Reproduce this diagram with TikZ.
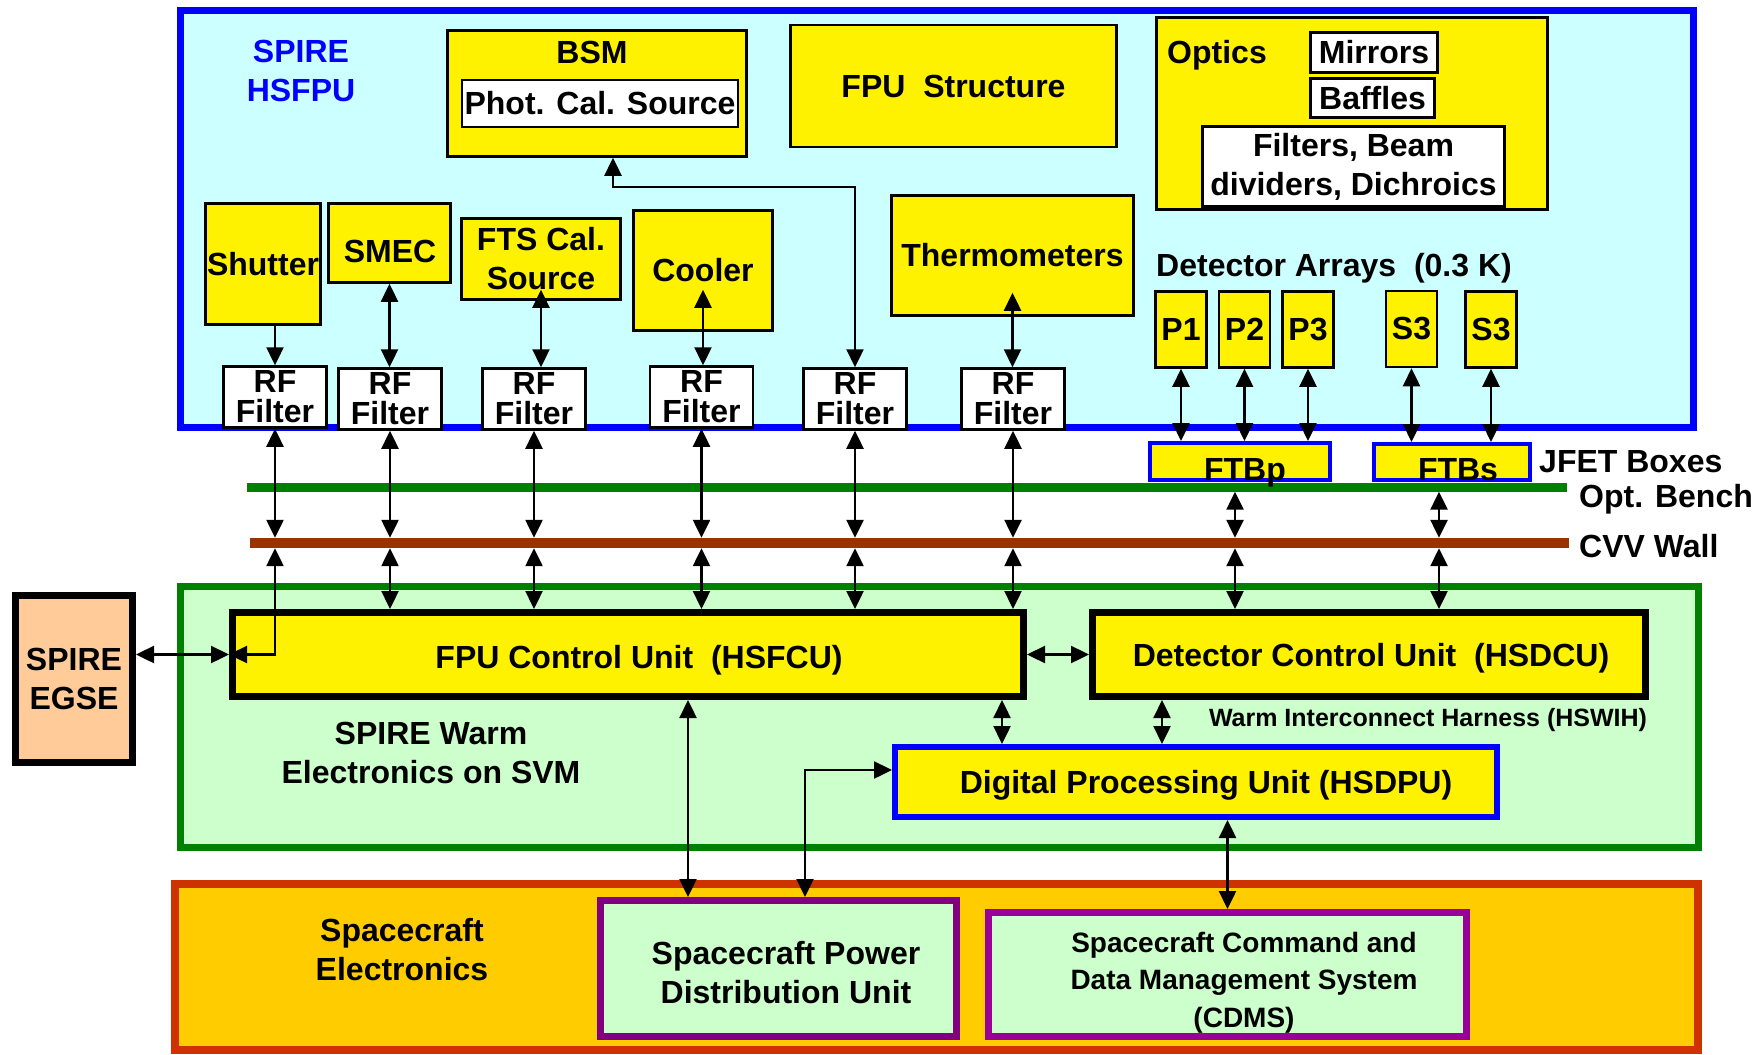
\documentclass[tikz,border=0pt]{standalone}
\usepackage{fontspec}
\setmainfont{Liberation Sans}
\usetikzlibrary{arrows.meta}

\definecolor{fpucyan}{HTML}{CCFFFF}
\definecolor{warmgreen}{HTML}{CCFFCC}
\definecolor{benchgreen}{HTML}{008000}
\definecolor{cvvbrown}{HTML}{993300}
\definecolor{egsepeach}{HTML}{FFCC99}
\definecolor{scorange}{HTML}{FFCC00}
\definecolor{scred}{HTML}{CC3300}
\definecolor{pdupurple}{HTML}{800080}
\definecolor{cdmspurple}{HTML}{990099}

\begin{document}
\begin{tikzpicture}[x=1pt, y=-1pt,
                    every node/.style={font=\bfseries\fontsize{32}{39}\selectfont, align=center, inner sep=0pt},
                    wh/.style 2 args={minimum width=#1pt, minimum height=#2pt},
                    ybox/.style={draw=black, line width=2.5pt, fill=yellow},
                    wbox/.style={draw=black, line width=2.5pt, fill=white},
                    det/.style={ybox, wh={51}{76}},
                    rf/.style={wbox, wh={103}{61}, font=\bfseries\fontsize{32}{30}\selectfont},
                    ftb/.style={draw=blue, line width=4pt, fill=yellow},
                    unit/.style={draw=black, line width=7pt, fill=yellow},
                    link/.style={draw=black, line width=2.4pt},
                    >={Triangle[length=18pt,width=17pt]}]
                    \useasboundingbox (0,0) rectangle (1760,1054);
                    % cold focal plane unit
                    \node[draw=blue, line width=7pt, fill=fpucyan, wh={1513}{417}] (fpu) at (937,219) {};
                    \node[text=blue] (fpulabel) at (301,71) {SPIRE\\HSFPU};
                    \node[ybox, wh={299}{126}] (bsm) at (597,93.5) {};
                    \node (bsmlabel) at (592,52) {BSM};
                    \node[wbox, wh={276}{47}] (pcal) at (600,103.5) {Phot. Cal. Source};
                    \node[ybox, wh={326}{122}] (struct) at (953.5,86) {FPU~~Structure};
                    \node[ybox, wh={391}{192}] (optics) at (1352,113.5) {};
                    \node (opticslabel) at (1217,55) {Optics};
                    \node[wbox, wh={127}{40}] (mirrors) at (1374,52.5) {Mirrors};
                    \node[wbox, wh={124}{39}] (baffles) at (1372.5,98) {Baffles};
                    \node[wbox, wh={302}{80}] (filters) at (1353.5,166.5) {Filters, Beam\\dividers, Dichroics};
                    \node[ybox, wh={115}{121}] (shutter) at (263,264) {Shutter};
                    \node[ybox, wh={122}{79}] (smec) at (389.5,243) {};
                    \node (smeclabel) at (390,251) {SMEC};
                    \node[ybox, wh={159}{81}] (fts) at (541,259) {FTS Cal.\\Source};
                    \node[ybox, wh={139}{120}] (cooler) at (703,270.5) {Cooler};
                    \node[ybox, wh={242}{120}] (thermo) at (1012.5,255.5) {Thermometers};
                    \node[anchor=west] (detlabel) at (1156,268) {Detector Arrays~~(0.3 K)};
                    \node[det] (p1) at (1181,329.5) {P1};
                    \node[det] (p2) at (1244.5,329.5) {P2};
                    \node[det] (p3) at (1308,329.5) {P3};
                    \node[det] (s3a) at (1411.5,329) {S3};
                    \node[det] (s3b) at (1491,329.5) {S3};
                    \node[rf] (rf1) at (275,397) {RF\\Filter};
                    \node[rf] (rf2) at (390,399) {RF\\Filter};
                    \node[rf] (rf3) at (534,399) {RF\\Filter};
                    \node[rf] (rf4) at (701.5,397) {RF\\Filter};
                    \node[rf] (rf5) at (855,399) {RF\\Filter};
                    \node[rf] (rf6) at (1013,399) {RF\\Filter};
                    % bench and wall
                    \node[fill=benchgreen, wh={1320}{9}] (bench) at (907,487) {};
                    \node[fill=cvvbrown, wh={1319}{10}] (cvv) at (909.5,543) {};
                    \node[anchor=west] (benchlabel) at (1579,499) {Opt. Bench};
                    \node[anchor=west] (cvvlabel) at (1579,546) {CVV Wall};
                    \node[ftb, wh={180}{37}] (ftbp) at (1240,461.5) {};
                    \node[ftb, wh={156}{36}] (ftbs) at (1452,462) {};
                    \node (ftbplabel) at (1245,473) {FTBp};
                    \node (ftbslabel) at (1458,469.5) {FTBs};
                    \node[anchor=west] (jfetlabel) at (1539,462) {JFET Boxes};
                    % warm electronics
                    \node[draw=benchgreen, line width=7pt, fill=warmgreen, wh={1518}{261}] (warm) at (939.5,717) {};
                    \node (warmlabel) at (431,753) {SPIRE Warm\\Electronics on SVM};
                    \node[unit, wh={791}{84}] (fcu) at (628,654.5) {};
                    \node (fculabel) at (639,660) {FPU Control Unit~~(HSFCU)};
                    \node[unit, wh={553}{84}] (dcu) at (1369,654.5) {};
                    \node (dculabel) at (1371,658) {Detector Control Unit~~(HSDCU)};
                    \node[font=\bfseries\fontsize{25}{30}\selectfont] (hswih) at (1428,720) {Warm Interconnect Harness (HSWIH)};
                    \node[draw=blue, line width=6pt, fill=yellow, wh={602}{70}] (dpu) at (1196,782) {};
                    \node (dpulabel) at (1206,785) {Digital Processing Unit (HSDPU)};
                    \node[draw=black, line width=7pt, fill=egsepeach, wh={117}{167}] (egse) at (74,679) {SPIRE\\EGSE};
                    % spacecraft
                    \node[draw=scred, line width=8pt, fill=scorange, wh={1523}{166}] (sc) at (936.5,967) {};
                    \node (sclabel) at (402,950) {Spacecraft\\Electronics};
                    \node[draw=pdupurple, line width=7pt, fill=warmgreen, wh={356}{136}] (spdu) at (778.5,968.5) {};
                    \node (spdulabel) at (786,973) {Spacecraft Power\\Distribution Unit};
                    \node[draw=cdmspurple, line width=7pt, fill=warmgreen, wh={478}{124}] (cdms) at (1227.5,974.5) {};
                    \node[font=\bfseries\fontsize{28}{37.5}\selectfont] (cdmslabel) at (1244,982.5) {Spacecraft Command and\\Data Management System\\(CDMS)};
                    % links inside the FPU
                    \draw[link, ->] (shutter.south -| rf1.north) -- (rf1.north);
                    \draw[link, <->] (smec.south) -- (smec.south |- rf2.north);
                    \draw[link, <->] ([yshift=11pt]fts.south) -- (fts.south |- rf3.north);
                    \draw[link, <->] ([yshift=42pt]cooler.south) -- (cooler.south |- rf4.north);
                    \draw[link, <->] ([yshift=24pt]thermo.south) -- (thermo.south |- rf6.north);
                    \draw[link, <->] ([xshift=16pt]bsm.south) -- ++(0,29) -| (rf5.north);
                    \draw[link, <->] (p1.south) -- (p1.south |- ftbp.north);
                    \draw[link, <->] (p2.south) -- (p2.south |- ftbp.north);
                    \draw[link, <->] (p3.south) -- (p3.south |- ftbp.north);
                    \draw[link, <->] (s3a.south) -- (s3a.south |- ftbs.north);
                    \draw[link, <->] (s3b.south) -- (s3b.south |- ftbs.north);
                    % harness through the wall
                    \draw[link, <->] (rf1.south) -- (rf1.south |- cvv.north);
                    \draw[link, <->] (rf1.south |- cvv.south) |- (fcu.west);
                    \draw[link, <->] (rf2.south) -- (rf2.south |- cvv.north);
                    \draw[link, <->] (rf2.south |- cvv.south) -- (rf2.south |- fcu.north);
                    \draw[link, <->] (rf3.south) -- (rf3.south |- cvv.north);
                    \draw[link, <->] (rf3.south |- cvv.south) -- (rf3.south |- fcu.north);
                    \draw[link, <->] (rf4.south) -- (rf4.south |- cvv.north);
                    \draw[link, <->] (rf4.south |- cvv.south) -- (rf4.south |- fcu.north);
                    \draw[link, <->] (rf5.south) -- (rf5.south |- cvv.north);
                    \draw[link, <->] (rf5.south |- cvv.south) -- (rf5.south |- fcu.north);
                    \draw[link, <->] (rf6.south) -- (rf6.south |- cvv.north);
                    \draw[link, <->] (rf6.south |- cvv.south) -- (rf6.south |- fcu.north);
                    \draw[link, <->] ([xshift=-5pt]ftbp.south |- bench.south) -- ([xshift=-5pt]ftbp.south |- cvv.north);
                    \draw[link, <->] ([xshift=-5pt]ftbp.south |- cvv.south) -- ([xshift=-5pt]ftbp.south |- dcu.north);
                    \draw[link, <->] ([xshift=-13pt]ftbs.south |- bench.south) -- ([xshift=-13pt]ftbs.south |- cvv.north);
                    \draw[link, <->] ([xshift=-13pt]ftbs.south |- cvv.south) -- ([xshift=-13pt]ftbs.south |- dcu.north);
                    % warm links
                    \draw[link, <->] (egse.east |- fcu.west) -- (fcu.west);
                    \draw[link, <->] (fcu.east) -- (dcu.west);
                    \draw[link, <->] ([xshift=374pt]fcu.south) -- ([xshift=-194pt]dpu.north);
                    \draw[link, <->] ([xshift=-207pt]dcu.south) -- ([xshift=-34pt]dpu.north);
                    \draw[link, <->] ([xshift=60pt]fcu.south) -- ([xshift=-90.5pt]spdu.north);
                    \draw[link, <->] ([yshift=12pt]dpu.west) -| ([xshift=26.5pt]spdu.north);
                    \draw[link, <->] (dpu.south -| cdms.north) -- (cdms.north);
                \end{tikzpicture}
\end{document}
